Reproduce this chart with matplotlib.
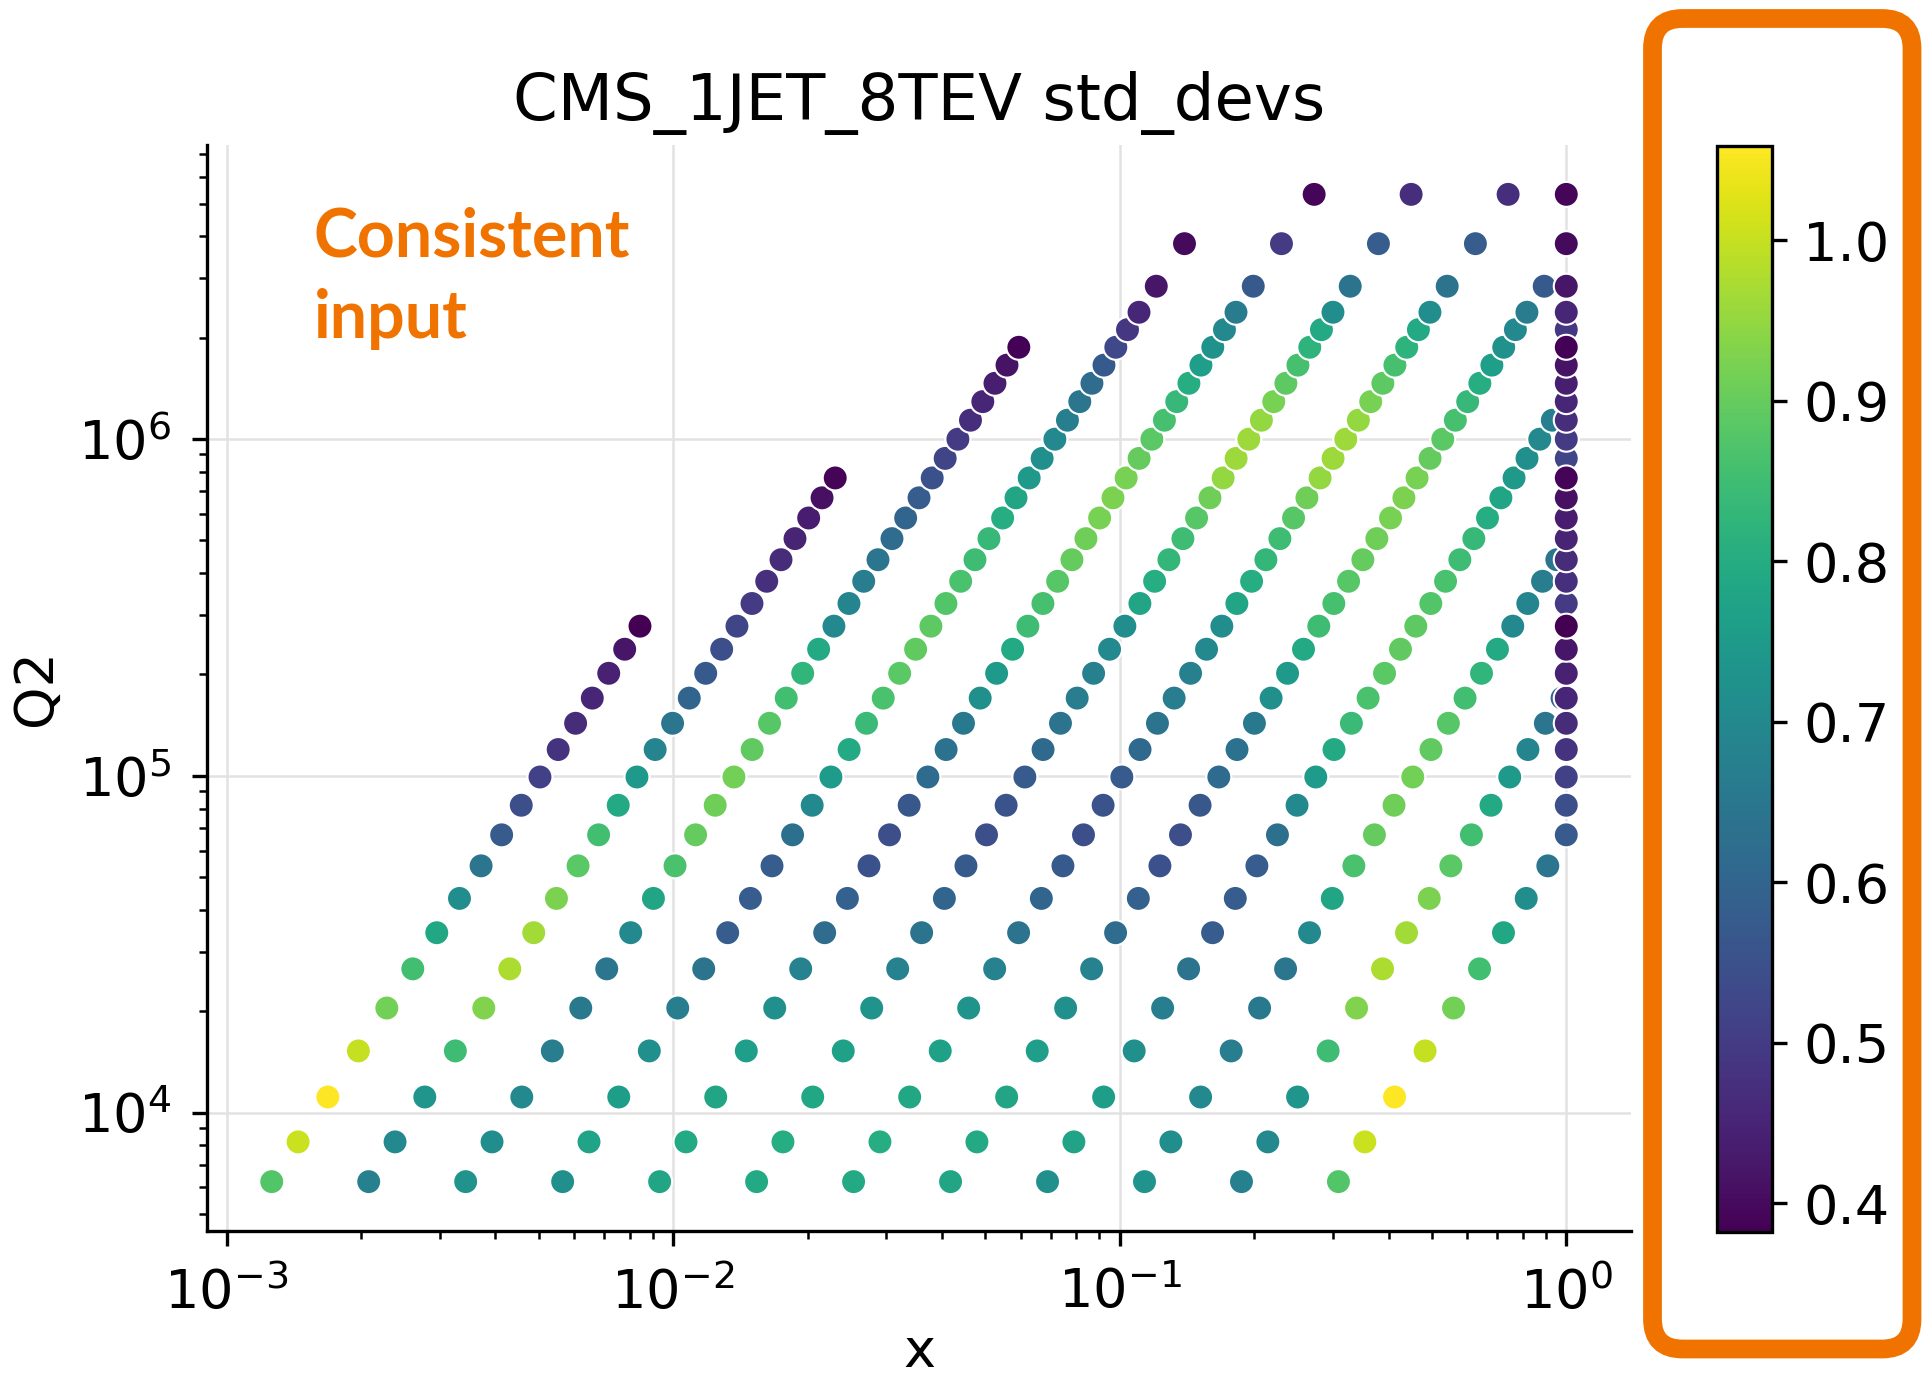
import numpy as np
import matplotlib
matplotlib.use("Agg")
import matplotlib.pyplot as plt
from matplotlib.patches import FancyBboxPatch

plt.rcParams["font.family"] = ["DejaVu Sans"]
plt.rcParams["font.size"] = 13
plt.rcParams["xtick.major.pad"] = 5.0
plt.rcParams["ytick.major.pad"] = 5.0

# Collider energy (GeV) and jet binning
SQRT_S = 8000.0
PT_BIN_CENTRES = [79, 90.5, 105.5, 123.5, 143, 163.5, 185, 208, 232.5, 258.5,
                  286, 315, 346, 378.5, 412.5, 449, 487.5, 527.5, 570, 615,
                  662, 711.5, 763.5, 818, 875.5, 936, 999.5, 1066.5, 1136.5,
                  1210, 1287.5, 1368.5, 1453.5, 1542.5, 1686, 1950, 2308]
RAPIDITY_CENTRES = [0.25, 0.75, 1.25, 1.75, 2.25, 2.75]

# std_devs per rapidity bin, ordered by increasing jet pT
STD_DEVS_Y0 = [0.79, 0.80, 0.785, 0.77, 0.73, 0.68, 0.64, 0.60, 0.57, 0.545,
               0.555, 0.575, 0.61, 0.64, 0.665, 0.675, 0.70, 0.715, 0.78, 0.80,
               0.83, 0.85, 0.88, 0.91, 0.95, 0.96, 0.96, 0.95, 0.92, 0.89,
               0.86, 0.82, 0.79, 0.71, 0.64, 0.58, 0.47]
STD_DEVS_Y1 = [0.78, 0.79, 0.78, 0.76, 0.72, 0.68, 0.62, 0.59, 0.55, 0.545,
               0.565, 0.615, 0.635, 0.655, 0.72, 0.745, 0.79, 0.85, 0.86, 0.88,
               0.90, 0.91, 0.92, 0.925, 0.92, 0.90, 0.885, 0.86, 0.835, 0.80,
               0.76, 0.725, 0.70, 0.66, 0.57, 0.50, 0.39]
STD_DEVS_Y2 = [0.72, 0.775, 0.755, 0.72, 0.67, 0.64, 0.58, 0.58, 0.58, 0.63,
               0.70, 0.75, 0.79, 0.84, 0.865, 0.885, 0.895, 0.89, 0.875, 0.865,
               0.85, 0.835, 0.80, 0.78, 0.745, 0.72, 0.70, 0.67, 0.645, 0.62,
               0.57, 0.53, 0.49, 0.455, 0.42, 0.40]
STD_DEVS_Y3 = [0.73, 0.715, 0.70, 0.665, 0.655, 0.645, 0.70, 0.78, 0.865, 0.90,
               0.91, 0.915, 0.895, 0.88, 0.855, 0.825, 0.79, 0.70, 0.69, 0.665,
               0.645, 0.62, 0.60, 0.58, 0.55, 0.52, 0.50, 0.47, 0.455, 0.44,
               0.415, 0.386]
STD_DEVS_Y4 = [0.675, 0.70, 0.735, 0.85, 0.93, 0.975, 0.965, 0.925, 0.885, 0.855,
               0.79, 0.745, 0.69, 0.645, 0.60, 0.57, 0.545, 0.52, 0.50, 0.475,
               0.465, 0.45, 0.435, 0.41, 0.388]
STD_DEVS_Y5 = [0.875, 1.005, 1.059, 1.00, 0.915, 0.855, 0.785, 0.715, 0.645,
               0.575, 0.545, 0.51, 0.48, 0.465, 0.455, 0.445, 0.42, 0.382]

TITLE = "CMS_1JET_8TEV std_devs"
X_LABEL = "x"
Y_LABEL = "Q2"
CBAR_TICKS = [0.4, 0.5, 0.6, 0.7, 0.8, 0.9, 1.0]
NOTE_LINES = ["Consistent", "input"]
ORANGE = "#F07300"


def jet_xq2(rapidities, pt_centres, series):
    """Leading-order jet kinematics: x = 2 pT/sqrt(s) * exp(+-y), Q2 = pT^2."""
    x_plus, x_minus, q2, vals = [], [], [], []
    for y, values in zip(rapidities, series):
        pt = np.asarray(pt_centres[:len(values)], dtype=float)
        ratio = 2.0 * pt / SQRT_S
        x_plus.append(ratio * np.exp(y))
        x_minus.append(ratio * np.exp(-y))
        q2.append(pt * pt)
        vals.append(np.asarray(values, dtype=float))
    x = np.concatenate(x_plus + x_minus)
    x = np.clip(x, None, 1.0)
    q2 = np.concatenate(q2 + q2)
    vals = np.concatenate(vals + vals)
    return x, q2, vals


series = [STD_DEVS_Y0, STD_DEVS_Y1, STD_DEVS_Y2, STD_DEVS_Y3, STD_DEVS_Y4, STD_DEVS_Y5]
x, q2, vals = jet_xq2(RAPIDITY_CENTRES, PT_BIN_CENTRES, series)

W, H, DPI = 1922, 1383, 300
fig = plt.figure(figsize=(W / DPI, H / DPI), dpi=DPI)
ax = fig.add_axes([207 / W, 1 - 1231 / H, (1631 - 207) / W, (1231 - 145) / H])
cax = fig.add_axes([1717 / W, 1 - 1232 / H, 55 / W, (1232 - 145.5) / H])

sc = ax.scatter(x, q2, c=vals, cmap="viridis", vmin=vals.min(), vmax=vals.max(),
                s=36, edgecolors="white", linewidths=0.5, zorder=3)
ax.set_xscale("log")
ax.set_yscale("log")
ax.grid(True, which="major", color="#e2e2e2", linewidth=0.6)
ax.set_axisbelow(True)
for side in ("top", "right"):
    ax.spines[side].set_visible(False)
ax.set_title(TITLE, fontsize=15.4)
ax.set_xlabel(X_LABEL, labelpad=1.5)
ax.set_ylabel(Y_LABEL)

cb = fig.colorbar(sc, cax=cax, ticks=CBAR_TICKS)
cb.outline.set_linewidth(0.8)
cb.ax.tick_params(pad=4.0)

# Annotation in the upper-left corner of the panel
for text, baseline in zip(NOTE_LINES, (256.7, 338.0)):
    fig.text(314 / W, 1 - baseline / H, text, color=ORANGE, fontfamily="Lato",
             fontweight="bold", fontsize=15.9, va="baseline", ha="left")

# Rounded frame around the colour scale
x0, x1 = 1652.5 / DPI, 1912 / DPI
y0, y1 = (H - 1349) / DPI, (H - 18.5) / DPI
frame = FancyBboxPatch((x0, y0), x1 - x0, y1 - y0,
                       boxstyle="round,pad=0,rounding_size=0.1",
                       transform=fig.dpi_scale_trans, fill=False,
                       edgecolor=ORANGE, linewidth=4.5, clip_on=False)
fig.add_artist(frame)

fig.savefig("out.png", dpi=DPI)
